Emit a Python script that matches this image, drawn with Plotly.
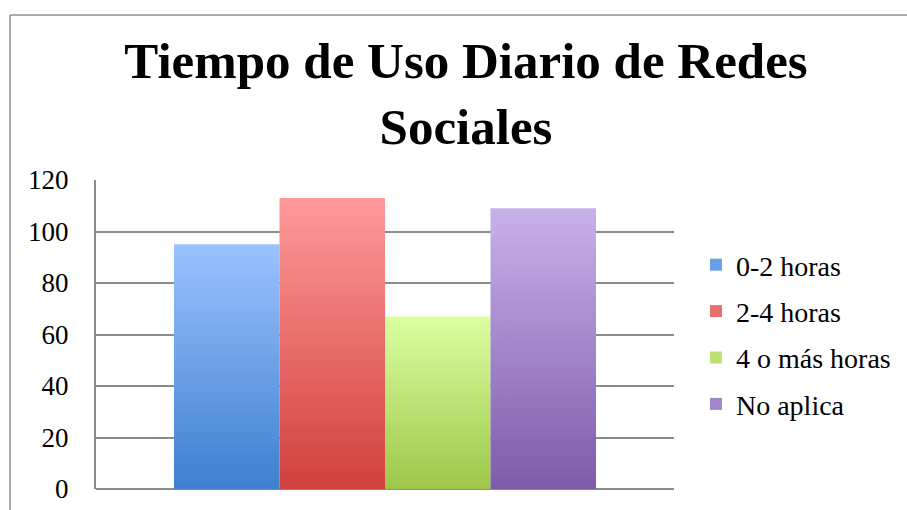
import plotly.graph_objects as go

# ---- data ----
series = ["0-2 horas", "2-4 horas", "4 o más horas", "No aplica"]
values = [95, 113, 67, 109]
y_ticks = [0, 20, 40, 60, 80, 100, 120]
title_text = "Tiempo de Uso Diario de Redes<br>Sociales"

# ---- styles ----
top_colors = ["#9BC2FF", "#FE9A9A", "#DBFFA0", "#C8B1EB"]
bottom_colors = ["#3D7FD0", "#D1403C", "#9EC74A", "#7D5BA9"]
legend_colors = ["#6A9FE6", "#E66E6B", "#BCE275", "#A386C9"]
FONT = "Liberation Serif, Times New Roman, serif"
GRID = "#8C8C8C"

W, H = 907, 510
ML, MR, MT, MB = 96, 233, 180, 21
plot_w = W - ML - MR
plot_h = H - MT - MB
bar_px = 105.5
half_span = plot_w / bar_px / 2
center = (len(series) - 1) / 2

fig = go.Figure()
for i, (name, v, ct, cb, cl) in enumerate(zip(series, values, top_colors, bottom_colors, legend_colors)):
    x0, x1 = i - 0.5, i + 0.5
    fig.add_trace(go.Scatter(
        x=[x0, x1, x1, x0, x0], y=[0, 0, v, v, 0],
        mode="lines", fill="toself", line=dict(width=0),
        fillgradient=dict(type="vertical", colorscale=[[0, cb], [1, ct]]),
        name=name, legendgroup=name, showlegend=False,
        hovertemplate=f"{name}: {v}<extra></extra>",
    ))
    fig.add_trace(go.Bar(
        x=[None], y=[None], name=name, legendgroup=name,
        marker=dict(color=cl, line=dict(width=0)),
    ))

def px_x(p):
    return (p - ML) / plot_w

def px_y(p):
    return (H - MB - p) / plot_h

# outer chart frame (top and left edges)
fig.add_shape(type="line", xref="paper", yref="paper",
              x0=px_x(10), x1=px_x(W + 5), y0=px_y(15), y1=px_y(15),
              line=dict(color="#8F8F8F", width=1.5))
fig.add_shape(type="line", xref="paper", yref="paper",
              x0=px_x(10), x1=px_x(10), y0=px_y(15), y1=px_y(H + 5),
              line=dict(color="#8F8F8F", width=1.5))

fig.update_layout(
    width=W, height=H,
    margin=dict(l=ML, r=MR, t=MT, b=MB, pad=0, autoexpand=False),
    paper_bgcolor="white", plot_bgcolor="white",
    font=dict(family=FONT, color="black"),
    title=dict(text=title_text, x=466 / W, xanchor="center",
               y=1 - 78 / H, yanchor="top", yref="container", automargin=False,
               font=dict(family=FONT, size=51, weight="bold", color="black")),
    showlegend=True,
    legend=dict(x=1.038, xanchor="left", y=0.5, yanchor="middle",
                font=dict(family=FONT, size=28, color="black"),
                tracegroupgap=7, itemwidth=30, bgcolor="rgba(0,0,0,0)"),
    xaxis=dict(range=[center - half_span, center + half_span], showgrid=False,
               zeroline=False, showticklabels=False, ticks="", showline=False,
               automargin=False, fixedrange=True),
    yaxis=dict(range=[0, 120], tickvals=y_ticks, ticktext=[str(t) for t in y_ticks],
               showgrid=True, gridcolor=GRID, gridwidth=2,
               zeroline=True, zerolinecolor=GRID, zerolinewidth=2,
               showline=True, linecolor=GRID, linewidth=2,
               ticks="", ticklabelstandoff=20, automargin=False,
               tickfont=dict(family=FONT, size=27, color="black"),
               fixedrange=True),
)

fig.write_html(
    "out.html",
    config={"displayModeBar": False},
    post_script="document.body.style.margin='0px';document.body.style.overflow='hidden';",
)
